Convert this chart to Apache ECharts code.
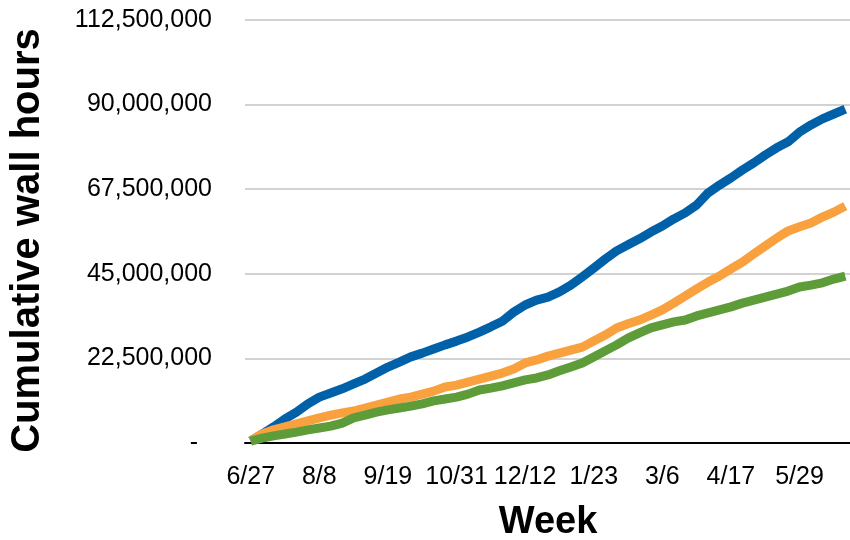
<!DOCTYPE html>
<html>
<head>
<meta charset="utf-8">
<title>Cumulative wall hours by week</title>
<script src="https://cdn.jsdelivr.net/npm/echarts@6/dist/echarts.min.js"></script>
<style>
  html, body { margin: 0; padding: 0; background: #ffffff; }
  #chart { width: 850px; height: 540px; }
</style>
</head>
<body>
<div id="chart"></div>
<script>
// Weekly categories (one per week, starting 6/27)
const weeks = [
  '6/27','7/4','7/11','7/18','7/25','8/1','8/8','8/15','8/22','8/29',
  '9/5','9/12','9/19','9/26','10/3','10/10','10/17','10/24','10/31','11/7',
  '11/14','11/21','11/28','12/5','12/12','12/19','12/26','1/2','1/9','1/16',
  '1/23','1/30','2/6','2/13','2/20','2/27','3/6','3/13','3/20','3/27',
  '4/3','4/10','4/17','4/24','5/1','5/8','5/15','5/22','5/29','6/5',
  '6/12','6/19','6/26'
];

// Cumulative wall hours, in millions
const seriesBlue = [
  0.5, 2.4, 4.3, 6.4, 8.2, 10.4, 12.2, 13.3, 14.4, 15.7,
  17.0, 18.6, 20.2, 21.5, 22.9, 23.9, 25.0, 26.1, 27.1, 28.2,
  29.5, 30.9, 32.4, 34.8, 36.7, 38.0, 38.8, 40.2, 42.0, 44.2,
  46.5, 48.9, 51.1, 52.7, 54.3, 56.1, 57.7, 59.6, 61.2, 63.3,
  66.5, 68.6, 70.5, 72.6, 74.5, 76.6, 78.5, 80.1, 82.7, 84.6,
  86.2, 87.5, 88.8
];
const seriesOrange = [
  0.6, 2.4, 3.5, 4.3, 5.1, 5.9, 6.7, 7.4, 8.0, 8.5,
  9.3, 10.1, 10.9, 11.7, 12.2, 13.0, 13.8, 14.9, 15.4, 16.2,
  17.0, 17.8, 18.6, 19.7, 21.3, 22.1, 23.1, 23.9, 24.7, 25.5,
  27.1, 28.7, 30.6, 31.7, 32.7, 34.0, 35.4, 37.2, 39.1, 41.0,
  42.8, 44.4, 46.3, 48.1, 50.3, 52.4, 54.5, 56.4, 57.5, 58.5,
  60.1, 61.4, 63.0
];
const seriesGreen = [
  0.5, 1.3, 1.9, 2.4, 2.9, 3.5, 4.0, 4.5, 5.3, 6.7,
  7.4, 8.2, 8.8, 9.3, 9.8, 10.4, 11.2, 11.7, 12.2, 13.0,
  14.1, 14.6, 15.2, 16.0, 16.8, 17.3, 18.1, 19.2, 20.2, 21.3,
  22.9, 24.5, 26.1, 27.9, 29.3, 30.6, 31.4, 32.2, 32.7, 33.8,
  34.6, 35.4, 36.2, 37.2, 38.0, 38.8, 39.6, 40.4, 41.5, 42.0,
  42.6, 43.6, 44.4
];

const yMax = 112500000;
const yStep = 22500000;
const toHours = arr => arr.map(v => Math.round(v * 1e6));

const font = "'Liberation Sans', Arial, Helvetica, sans-serif";
const tickFontSize = 25;

const chart = echarts.init(document.getElementById('chart'), null, { renderer: 'canvas' });

function lineSeries(name, values, color) {
  return {
    name: name,
    type: 'line',
    data: toHours(values),
    showSymbol: false,
    symbol: 'none',
    lineStyle: { color: color, width: 9, join: 'round' },
    itemStyle: { color: color },
    emphasis: { disabled: true }
  };
}

chart.setOption({
  animation: false,
  backgroundColor: '#ffffff',
  grid: {
    left: 245, top: 20, width: 606, bottom: 97,
    containLabel: false,
    outerBoundsMode: 'none'
  },
  xAxis: {
    type: 'category',
    data: weeks,
    boundaryGap: true,
    name: 'Week',
    nameLocation: 'middle',
    nameGap: 61,
    nameTextStyle: { fontFamily: font, fontSize: 38, fontWeight: 'bold', color: '#000000' },
    axisLine: { show: true, lineStyle: { color: '#000000', width: 2 } },
    axisTick: { show: false },
    axisLabel: {
      interval: 5,
      margin: 22,
      fontFamily: font,
      fontSize: tickFontSize,
      color: '#000000',
      hideOverlap: false
    },
    splitLine: { show: false }
  },
  yAxis: {
    type: 'value',
    min: 0,
    max: yMax,
    interval: yStep,
    name: 'Cumulative wall hours',
    nameLocation: 'middle',
    nameGap: 197,
    nameRotate: 90,
    nameTextStyle: {
      fontFamily: font, fontSize: 40, fontWeight: 'bold', color: '#000000',
      padding: [0, 18, 0, 0]
    },
    axisLine: { show: false },
    axisTick: { show: false },
    axisLabel: {
      margin: 33,
      fontFamily: font,
      fontSize: tickFontSize,
      color: '#000000',
      formatter: v => v === 0 ? '{z|-}' : v.toLocaleString('en-US'),
      rich: { z: { fontFamily: font, fontSize: tickFontSize, color: '#000000', padding: [0, 14, 0, 0] } }
    },
    splitLine: { show: true, lineStyle: { color: '#c3c3c3', width: 1.5 } }
  },
  series: [
    lineSeries('Series 1', seriesBlue, '#0061A8'),
    lineSeries('Series 2', seriesOrange, '#F9A13E'),
    lineSeries('Series 3', seriesGreen, '#5E9C3A')
  ]
});
</script>
</body>
</html>
